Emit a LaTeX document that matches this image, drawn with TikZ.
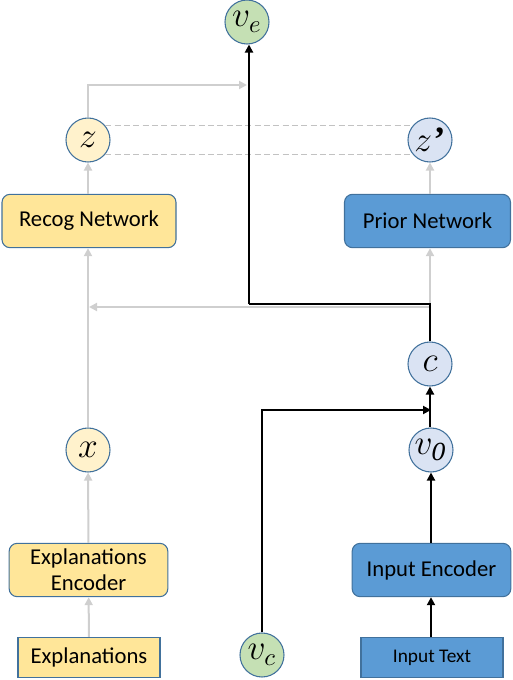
\documentclass[tikz,border=0pt]{standalone}
\usepackage{graphicx}
\usepackage{fontspec}
\setmainfont{Carlito}
\newfontfamily\cserif{Liberation Serif}
\newfontfamily\dvs{DejaVu Serif}
\usetikzlibrary{arrows.meta}
\definecolor{ybox}{HTML}{FFE699}
\definecolor{ycirc}{HTML}{FFF2CC}
\definecolor{gcirc}{HTML}{C5E0B4}
\definecolor{bcirc}{HTML}{DAE3F3}
\definecolor{bbox}{HTML}{5B9BD5}
\definecolor{bord}{HTML}{41719C}
\definecolor{lgray}{HTML}{CFCFCF}
\definecolor{dgray}{HTML}{C2C2C2}
\newcommand{\ctxt}[1]{\scalebox{1.85}{#1}}
\tikzset{
  circ/.style={circle, draw=bord, line width=0.8pt, minimum size=33pt, inner sep=0pt,
    font=\fontsize{14.4}{14.4}\selectfont},
  rbox/.style={rounded corners=6pt, draw=bord, line width=0.8pt, inner sep=0pt, align=center,
    minimum height=40pt, font=\fontsize{17}{19.5}\selectfont},
  sbox/.style={draw=bord, line width=0.8pt, inner sep=0pt, align=center,
    minimum height=30pt, font=\fontsize{17}{19.5}\selectfont},
  gline/.style={draw=lgray, line width=1.5pt},
  garr/.style={gline, -{Triangle[length=6pt,width=6pt]}},
  bline/.style={draw=black, line width=1.5pt},
  barr/.style={bline, -{Triangle[length=6pt,width=6pt]}},
  dline/.style={draw=dgray, line width=1.4pt, dash pattern=on 4.5pt off 2.5pt},
}
\begin{document}
\begin{tikzpicture}[x=0.75pt,y=-0.75pt]
\useasboundingbox (0,0) rectangle (512,680);
% nodes
\node[circ, fill=gcirc] (ve) at (247,22) {\ctxt{$v_e$}};
\node[circ, fill=ycirc] (z) at (88,140) {\ctxt{$z$}};
\node[circ, fill=bcirc] (zp) at (430,140) {\ctxt{$z$\kern0.6pt{\cserif\bfseries ’}}};
\node[rbox, fill=ybox, minimum width=130.5pt] (recog) at (89,221) {Recog Network};
\node[rbox, fill=bbox, minimum width=124.5pt] (prior) at (427.5,221) {Prior Network};
\node[circ, fill=bcirc] (c) at (430,364) {\ctxt{$c$}};
\node[circ, fill=ycirc] (x) at (88,450) {\ctxt{$x$}};
\node[circ, fill=bcirc] (v0) at (431,450) {\ctxt{$v_{\hbox{\dvs\itshape\fontsize{9.5}{9.5}\selectfont 0}}$}};
\node[rbox, fill=ybox, minimum width=119pt] (expenc) at (88.5,570) {Explanations\\Encoder};
\node[rbox, fill=bbox, minimum width=119pt] (inenc) at (431.5,570) {Input Encoder};
\node[sbox, fill=ybox, minimum width=106.5pt] (expl) at (89,657.5) {Explanations};
\node[circ, fill=gcirc] (vc) at (262,655) {\ctxt{$v_c$}};
\node[sbox, fill=bbox, minimum width=106.5pt, font=\fontsize{14.5}{16}\selectfont] (intext) at (432,657.5) {Input Text};
% coordinates
\coordinate (zj) at (247,85);
\coordinate (gj) at (430,307);
\coordinate (gl) at (89,307);
\coordinate (bj) at (249,304);
\coordinate (cin) at (431,410);
% gray connectors
\draw[garr] (expl) -- (expenc);
\draw[garr] (expenc) -- (x);
\draw[garr] (x.north) -- (recog.south -| x.north);
\draw[garr] (recog.north -| z.south) -- (z.south);
\draw[garr] (z.north) |- (zj);
\draw[garr] (c.north) -- (prior.south -| c.north);
\draw[garr] (prior.north -| zp.south) -- (zp.south);
\draw[garr] (gj) -- (gl);
\draw[dline] (z.40) -- (zp.140);
\draw[dline] (z.-40) -- (zp.-140);
% black connectors
\draw[bline] (c.north) |- (bj);
\draw[barr] (bj) -- (ve.south -| bj);
\draw[barr] (vc.north) |- (cin);
\draw[barr] (v0.north -| c.south) -- (c.south);
\draw[barr] (intext.north -| v0.south) -- (inenc.south -| v0.south);
\draw[barr] (inenc.north -| v0.south) -- (v0.south);
\end{tikzpicture}
\end{document}
